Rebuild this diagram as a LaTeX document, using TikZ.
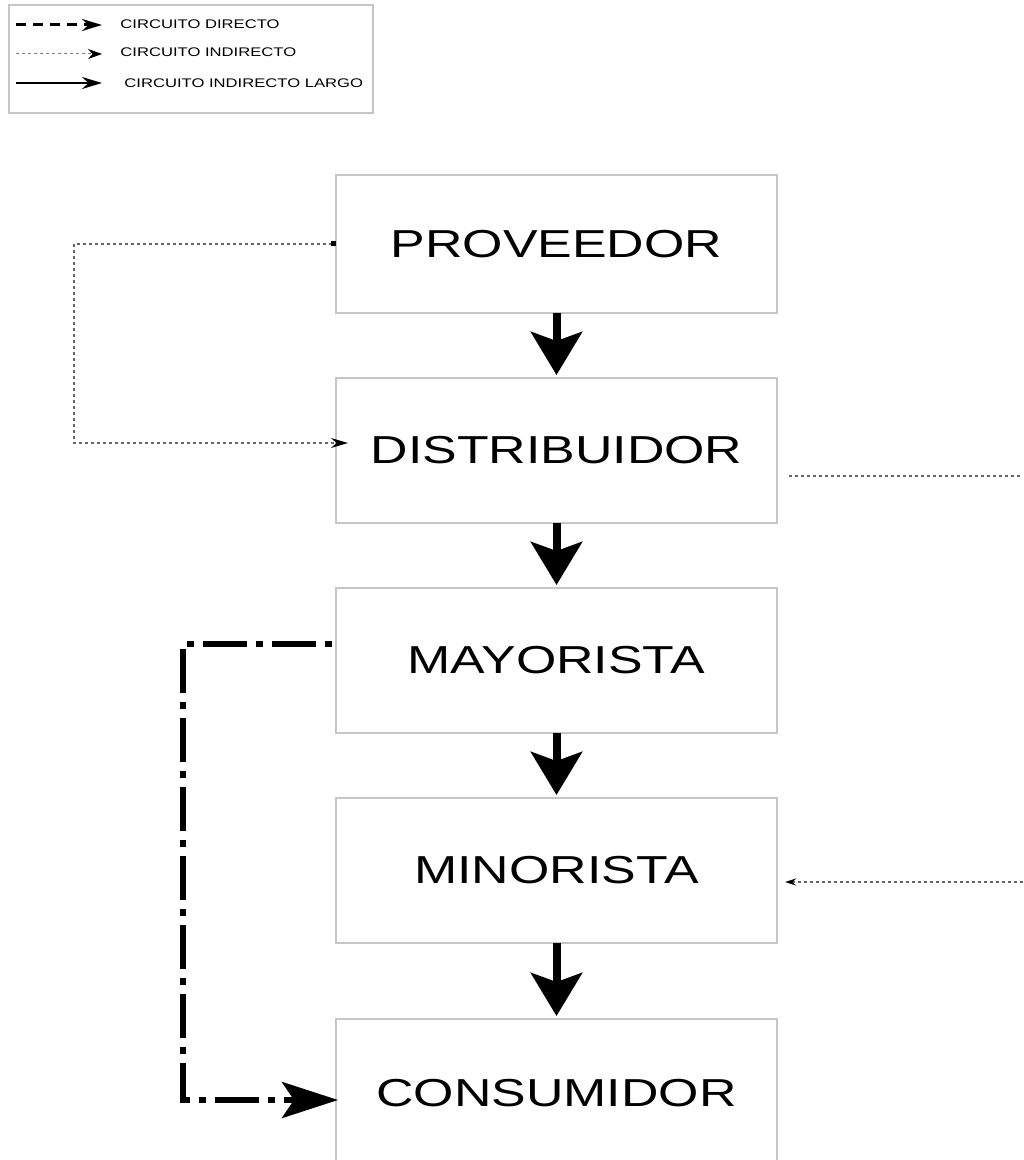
\documentclass[tikz,border=0pt]{standalone}
\usepackage{fontspec}
\setmainfont{Liberation Sans}
\newfontfamily\boxfont[FakeStretch=1.33]{Liberation Sans}
\usetikzlibrary{positioning,arrows.meta}

\tikzstyle{capNode} = [rectangle, minimum width=220.5pt, minimum height=72.5pt, inner sep=0pt, outer sep=0pt, text centered, draw=gray!45, line width=0.7pt, font=\boxfont\fontsize{19.5pt}{22pt}\selectfont]
\tikzstyle{legText} = [anchor=west, inner sep=0pt, font=\boxfont\fontsize{6.25pt}{7pt}\selectfont]
\tikzstyle{arrow} = [line width=4pt, -{Stealth[length=21.5pt,width=25.5pt,inset=4.5pt]}, shorten >=1.5pt]
\tikzstyle{dotLine} = [gray!80!black, line width=0.7pt, dash pattern=on 1.5pt off 1.5pt]
\tikzstyle{dashDot} = [line width=3pt, dash pattern=on 3.5pt off 4.5pt on 22pt off 4.5pt, dash phase=0pt]

\begin{document}
\begin{tikzpicture}[x=0.5pt, y=-0.5pt]
    \useasboundingbox (0,0) rectangle (1023,1160);

    \draw[gray!45, line width=0.6pt] (9,5) rectangle (373,113);
    \coordinate (l1s) at (16,25);  \coordinate (l1e) at (102,25);
    \coordinate (l2s) at (16,54);  \coordinate (l2e) at (102,54);
    \coordinate (l3s) at (16,83);  \coordinate (l3e) at (102,83);
    \node (directo)[legText] at (120,24) {CIRCUITO DIRECTO};
    \node (indirecto)[legText] at (120,52) {CIRCUITO INDIRECTO};
    \node (largo)[legText] at (124,83) {CIRCUITO INDIRECTO LARGO};
    \draw [line width=1.5pt, dash pattern=on 5pt off 3.5pt, -{Stealth[length=10pt,width=6pt]}] (l1s) -- (l1e);
    \draw [gray, line width=0.5pt, dash pattern=on 1.5pt off 1.5pt, -{Stealth[length=7pt,width=5pt,color=black]}] (l2s) -- (l2e);
    \draw [line width=1pt, -{Stealth[length=10pt,width=6pt]}] (l3s) -- (l3e);

    \node (proveedor)[capNode, minimum height=69pt] at (556.5,244) {PROVEEDOR};
    \node (distribuidor)[capNode, below=32.5pt of proveedor] {DISTRIBUIDOR};
    \node (mayorista)[capNode, below=32.5pt of distribuidor] {MAYORISTA};
    \node (minorista)[capNode, below=32.5pt of mayorista] {MINORISTA};
    \node (consumidor)[capNode, below=38pt of minorista, minimum height=74pt] {CONSUMIDOR};

    \draw [arrow] (proveedor) -- (distribuidor);
    \draw [arrow] (distribuidor) -- (mayorista);
    \draw [arrow] (mayorista) -- (minorista);
    \draw [arrow] (minorista) -- (consumidor);

    \coordinate (dright) at (1023,476);
    \coordinate (mright) at (1023,882);
    \draw [dotLine, {Square[length=2.5pt,width=2.5pt,color=black]}-{Stealth[length=8.5pt,width=5pt,color=black]}, shorten >=-6pt]
        (proveedor.west) -- ++(-131pt,0) |- ([yshift=3.75pt]distribuidor.west);
    \draw [dotLine] ([xshift=6pt,yshift=-12.75pt]distribuidor.east) -- (dright);
    \draw [dotLine, -{Stealth[length=5.5pt,width=3.5pt,color=black]}] (mright) -- ([xshift=4pt,yshift=-5.75pt]minorista.east);

    \draw [dashDot, -{Stealth[length=28pt,width=18pt,inset=6pt]}, shorten >=-1pt]
        ([xshift=-2pt,yshift=8.25pt]mayorista.west) -- ++(-74.5pt,0) |- ([yshift=-3.5pt]consumidor.west);

\end{tikzpicture}
\end{document}
